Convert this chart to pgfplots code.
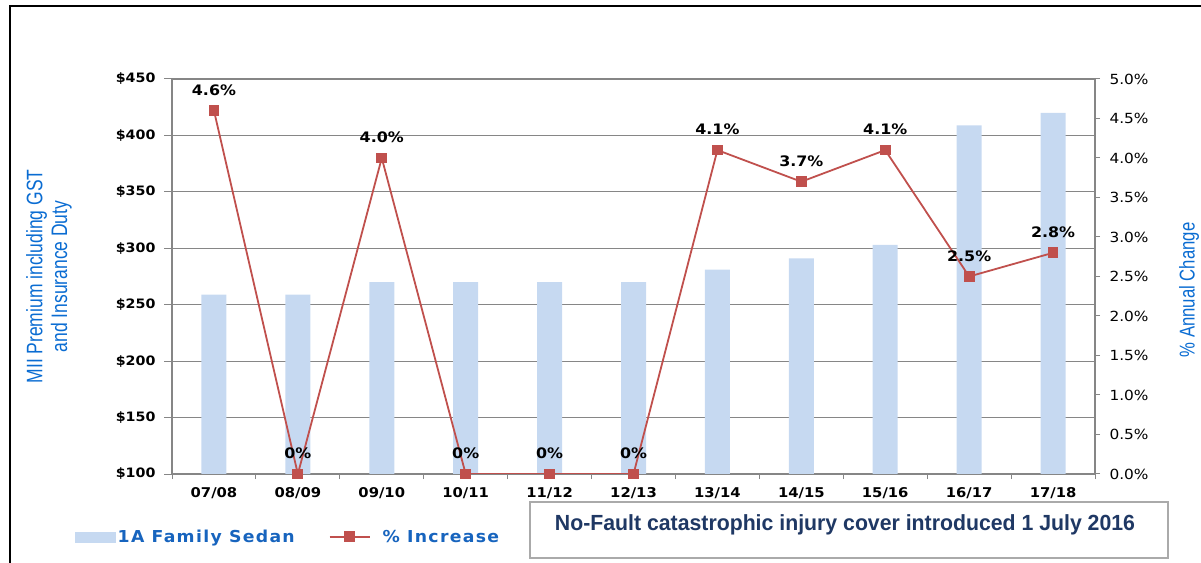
\documentclass[border=0pt]{standalone}
\usepackage{fontspec}
\setmainfont{DejaVu Sans}[FakeStretch=1.1]
\newfontfamily\narrowfont{Liberation Sans}[FakeStretch=0.78]
\newfontfamily\boxfont{Liberation Sans}[FakeStretch=0.97]
\newfontfamily\legendfont{DejaVu Sans}[FakeStretch=1.05,LetterSpace=8]
\usepackage{pgfplots}
\usepackage{pgfplotstable}
\pgfplotsset{compat=1.18}

\definecolor{barblue}{RGB}{198,217,241}
\definecolor{linered}{RGB}{192,80,77}
\definecolor{gridgray}{RGB}{134,134,134}
\definecolor{titleblue}{RGB}{10,108,210}
\definecolor{legendblue}{RGB}{23,100,190}
\definecolor{boxnavy}{RGB}{31,56,100}
\definecolor{boxgray}{RGB}{170,170,170}

% Annual MII premium for a 1A family sedan (incl. GST and insurance duty)
\pgfplotstableread{
x premium
0 259
1 259
2 270
3 270
4 270
5 270
6 281
7 291
8 303
9 409
10 420
}\premiumdata

% Year-on-year change in premium
\pgfplotstableread{
x pct label
0 4.6 4.6\%
1 0.0 0\%
2 4.0 4.0\%
3 0.0 0\%
4 0.0 0\%
5 0.0 0\%
6 4.1 4.1\%
7 3.7 3.7\%
8 4.1 4.1\%
9 2.5 2.5\%
10 2.8 2.8\%
}\pctdata

\pgfplotsset{
  commonaxis/.style={
    at={(172bp,89bp)}, anchor=south west,
    scale only axis, width=923bp, height=395bp,
    xmin=-0.5, xmax=10.5,
    axis line style={gridgray, line width=1.3bp},
    tick style={gridgray, line width=1bp},
    tick align=outside,
  },
  barlegend/.style={legend image code/.code={
    \fill[barblue] (0bp,-5bp) rectangle (40bp,5bp);}},
  linelegend/.style={legend image code/.code={
    \draw[##1, mark repeat=2, mark phase=2]
      plot coordinates {(0bp,0bp) (20bp,0bp) (40bp,0bp)};}},
}

\begin{document}
\begin{tikzpicture}
\path[use as bounding box] (0bp,0bp) rectangle (1201bp,563bp);

% Premium bars on the left axis
\begin{axis}[
  commonaxis,
  axis y line*=left, axis x line*=bottom,
  ymin=100, ymax=450,
  ytick={100,150,...,450},
  yticklabels={\$100,\$150,\$200,\$250,\$300,\$350,\$400,\$450},
  yticklabel style={font=\bfseries\fontsize{13}{15}\selectfont, xshift=-5bp},
  major tick length=8bp,
  xtick={0,...,10},
  xticklabels={07/08,08/09,09/10,10/11,11/12,12/13,13/14,14/15,15/16,16/17,17/18},
  xticklabel style={font=\bfseries\fontsize{13.5}{15}\selectfont, yshift=-2bp},
  major x tick style={draw=none},
  minor xtick={-0.5,0.5,...,10.5},
  minor tick length=5bp,
  ymajorgrids, grid style={gridgray, line width=1.1bp},
  ylabel={MII Premium including GST\\and Insurance Duty},
  ylabel style={at={(axis description cs:-0.1333,0.5)}, anchor=center,
    align=center, text=titleblue,
    font=\narrowfont\fontsize{22.5}{25}\selectfont},
]
\addplot[ybar, bar width=25bp, bar shift=0pt, fill=barblue, draw=none]
  table[x=x, y=premium] {\premiumdata};
\end{axis}

% Percentage change on the right axis
\begin{axis}[
  commonaxis,
  axis y line*=right, axis x line=none,
  ymin=0, ymax=5,
  ytick={0,0.5,...,5},
  yticklabels={0.0\%,0.5\%,1.0\%,1.5\%,2.0\%,2.5\%,3.0\%,3.5\%,4.0\%,4.5\%,5.0\%},
  yticklabel style={font=\fontsize{14}{16}\selectfont, xshift=6bp},
  major tick length=5bp,
  ylabel={\% Annual Change},
  ylabel style={at={(axis description cs:1.1018,0.466)}, anchor=center,
    rotate=0, text=titleblue,
    font=\narrowfont\fontsize{21.5}{24}\selectfont},
  legend columns=2,
  legend style={at={(axis description cs:-0.105,-0.159)}, anchor=west,
    draw=none, fill=none, inner sep=0pt,
    font=\legendfont\bfseries\fontsize{16.5}{19}\selectfont,
    text=legendblue,
    /tikz/every even column/.append style={column sep=32bp}},
]
\addlegendimage{barlegend}
\addlegendentry{1A Family Sedan}
\addplot[color=linered, line width=1.8bp, mark=square*,
  mark size=4.5bp, mark options={solid, fill=linered},
  point meta=explicit symbolic,
  nodes near coords,
  nodes near coords style={font=\bfseries\fontsize{14.5}{16}\selectfont,
    text=black, anchor=south, yshift=11bp},
  linelegend]
  table[x=x, y=pct, meta=label] {\pctdata};
\addlegendentry{\hspace{10bp}\% Increase}
\end{axis}

% Note box
\draw[boxgray, line width=1.2bp, fill=white] (530bp,5bp) rectangle (1168bp,61bp);
\node[text=boxnavy, font=\boxfont\bfseries\fontsize{22}{25}\selectfont]
  at (845bp,38bp) {No-Fault catastrophic injury cover introduced 1 July 2016};

% Slide frame
\draw[black, line width=2.5bp] (10bp,-10bp) -- (10bp,557bp) -- (1215bp,557bp);
\end{tikzpicture}
\end{document}
